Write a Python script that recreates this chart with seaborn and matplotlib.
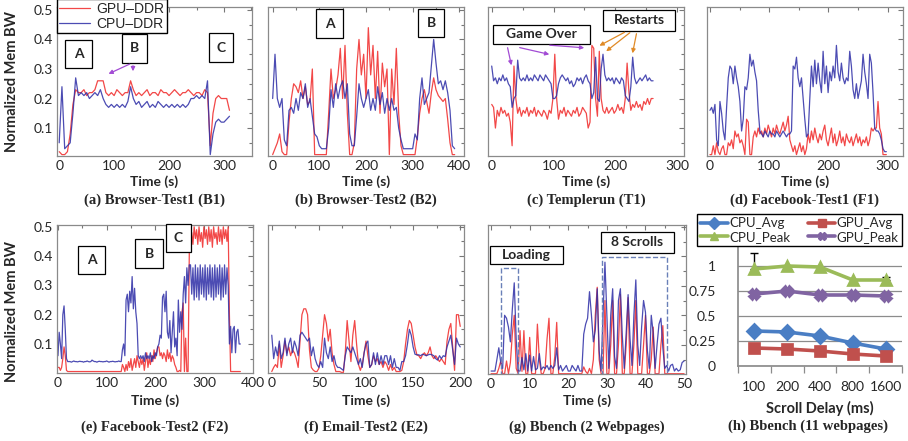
import numpy as np
import pandas as pd
import matplotlib
matplotlib.use("Agg")
import matplotlib.pyplot as plt
from matplotlib.patches import Rectangle, FancyArrowPatch
from matplotlib.lines import Line2D
from matplotlib.ticker import MultipleLocator
import seaborn as sns

# ---------------- data (normalized memory bandwidth) ----------------
# (a) Browser-Test1, one sample every 5 s
b1_step = 5
b1_gpu = [0.02, 0.01, 0.01, 0.02, 0.08, 0.18, 0.23, 0.22, 0.22, 0.23,
          0.21, 0.22, 0.22, 0.23, 0.26, 0.26, 0.26, 0.22, 0.21, 0.22,
          0.21, 0.23, 0.22, 0.21, 0.22, 0.22, 0.26, 0.23, 0.21, 0.22,
          0.21, 0.22, 0.23, 0.21, 0.22, 0.22, 0.21, 0.23, 0.22, 0.22,
          0.21, 0.22, 0.23, 0.22, 0.21, 0.22, 0.22, 0.23, 0.22, 0.21,
          0.22, 0.22, 0.21, 0.23, 0.22, 0.04, 0.15, 0.20, 0.21, 0.20,
          0.20, 0.20, 0.16]
b1_cpu = [0.05, 0.24, 0.03, 0.04, 0.05, 0.15, 0.27, 0.21, 0.22, 0.21,
          0.22, 0.20, 0.21, 0.22, 0.21, 0.23, 0.20, 0.18, 0.17, 0.18,
          0.17, 0.18, 0.17, 0.18, 0.17, 0.19, 0.24, 0.20, 0.18, 0.19,
          0.17, 0.18, 0.19, 0.17, 0.18, 0.17, 0.19, 0.18, 0.17, 0.18,
          0.17, 0.18, 0.17, 0.18, 0.17, 0.18, 0.17, 0.18, 0.20, 0.20,
          0.21, 0.20, 0.21, 0.20, 0.26, 0.01, 0.08, 0.12, 0.13, 0.12,
          0.12, 0.13, 0.14]

# (b) Browser-Test2, every 5 s
b2_step = 5
b2_gpu = [0.01, 0.03, 0.05, 0.08, 0.02, 0.01, 0.01, 0.12, 0.20, 0.25,
          0.24, 0.22, 0.26, 0.20, 0.24, 0.18, 0.19, 0.30, 0.01, 0.01,
          0.01, 0.01, 0.01, 0.01, 0.15, 0.30, 0.20, 0.23, 0.28, 0.37,
          0.20, 0.38, 0.15, 0.01, 0.01, 0.05, 0.30, 0.40, 0.28, 0.35,
          0.20, 0.44, 0.28, 0.38, 0.20, 0.36, 0.15, 0.32, 0.24, 0.30,
          0.01, 0.30, 0.18, 0.37, 0.15, 0.04, 0.01, 0.01, 0.01, 0.01,
          0.01, 0.01, 0.07, 0.15, 0.20, 0.23, 0.19, 0.15, 0.22, 0.27,
          0.23, 0.21, 0.20, 0.19, 0.20, 0.13, 0.05, 0.01, 0.01]
b2_cpu = [0.20, 0.35, 0.20, 0.17, 0.20, 0.06, 0.04, 0.16, 0.17, 0.15,
          0.20, 0.16, 0.22, 0.20, 0.25, 0.17, 0.20, 0.14, 0.08, 0.07,
          0.04, 0.03, 0.03, 0.03, 0.10, 0.23, 0.17, 0.25, 0.20, 0.24,
          0.26, 0.20, 0.25, 0.08, 0.04, 0.04, 0.14, 0.25, 0.20, 0.17,
          0.20, 0.23, 0.16, 0.20, 0.16, 0.24, 0.18, 0.22, 0.15, 0.20,
          0.16, 0.20, 0.16, 0.17, 0.10, 0.06, 0.03, 0.03, 0.03, 0.03,
          0.03, 0.08, 0.06, 0.20, 0.27, 0.18, 0.20, 0.22, 0.31, 0.40,
          0.32, 0.25, 0.26, 0.23, 0.26, 0.22, 0.16, 0.04, 0.03]

# (c) Templerun, every 3 s
t1_step = 3
t1_gpu = [0.18, 0.17, 0.10, 0.16, 0.14, 0.17, 0.15, 0.16, 0.14, 0.15,
          0.12, 0.04, 0.31, 0.20, 0.15, 0.17, 0.14, 0.16, 0.15, 0.17,
          0.14, 0.16, 0.15, 0.17, 0.14, 0.16, 0.15, 0.14, 0.16, 0.15,
          0.13, 0.16, 0.15, 0.20, 0.35, 0.20, 0.13, 0.16, 0.15, 0.17,
          0.14, 0.16, 0.15, 0.14, 0.16, 0.15, 0.17, 0.14, 0.15, 0.17,
          0.16, 0.15, 0.10, 0.12, 0.38, 0.37, 0.20, 0.14, 0.36, 0.20,
          0.16, 0.15, 0.17, 0.15, 0.16, 0.17, 0.15, 0.16, 0.18, 0.16,
          0.17, 0.15, 0.20, 0.32, 0.22, 0.16, 0.18, 0.17, 0.19, 0.17,
          0.18, 0.16, 0.19, 0.18, 0.20, 0.18, 0.20, 0.20]
t1_cpu = [0.31, 0.26, 0.27, 0.25, 0.27, 0.26, 0.28, 0.26, 0.27, 0.25,
          0.24, 0.17, 0.20, 0.21, 0.33, 0.27, 0.26, 0.27, 0.26, 0.28,
          0.26, 0.27, 0.26, 0.28, 0.27, 0.26, 0.28, 0.27, 0.26, 0.28,
          0.27, 0.26, 0.25, 0.20, 0.20, 0.21, 0.25, 0.27, 0.28, 0.27,
          0.26, 0.27, 0.25, 0.26, 0.24, 0.25, 0.27, 0.26, 0.27, 0.25,
          0.27, 0.28, 0.26, 0.25, 0.20, 0.22, 0.34, 0.20, 0.19, 0.30,
          0.35, 0.28, 0.26, 0.27, 0.26, 0.27, 0.25, 0.27, 0.26, 0.25,
          0.27, 0.26, 0.21, 0.20, 0.19, 0.24, 0.34, 0.27, 0.25, 0.26,
          0.27, 0.26, 0.27, 0.28, 0.26, 0.27, 0.26, 0.26]

# (d) Facebook-Test1, every 2.81 s
f1_step = 2.81
f1_gpu = [0.01, 0.01, 0.04, 0.01, 0.05, 0.02, 0.01, 0.03, 0.04, 0.01,
          0.01, 0.05, 0.04, 0.06, 0.03, 0.09, 0.07, 0.08, 0.05, 0.06,
          0.04, 0.01, 0.13, 0.12, 0.01, 0.01, 0.07, 0.09, 0.07, 0.10,
          0.08, 0.09, 0.07, 0.10, 0.08, 0.11, 0.09, 0.07, 0.10, 0.08,
          0.11, 0.09, 0.08, 0.10, 0.12, 0.09, 0.11, 0.14, 0.06, 0.04,
          0.02, 0.04, 0.01, 0.03, 0.05, 0.02, 0.04, 0.01, 0.03, 0.08,
          0.05, 0.09, 0.06, 0.10, 0.07, 0.05, 0.08, 0.06, 0.09, 0.11,
          0.06, 0.04, 0.07, 0.10, 0.05, 0.08, 0.04, 0.06, 0.09, 0.05,
          0.07, 0.04, 0.08, 0.06, 0.05, 0.07, 0.04, 0.06, 0.08, 0.05,
          0.07, 0.04, 0.06, 0.05, 0.07, 0.04, 0.06, 0.10, 0.09, 0.10,
          0.10, 0.19, 0.10, 0.08, 0.01, 0.01, 0.01]
f1_cpu = [0.16, 0.17, 0.15, 0.18, 0.06, 0.04, 0.19, 0.15, 0.09, 0.06,
          0.17, 0.27, 0.31, 0.30, 0.25, 0.31, 0.27, 0.24, 0.19, 0.09,
          0.13, 0.24, 0.23, 0.27, 0.35, 0.31, 0.33, 0.29, 0.26, 0.16,
          0.09, 0.08, 0.07, 0.09, 0.08, 0.07, 0.09, 0.08, 0.08, 0.07,
          0.09, 0.08, 0.07, 0.08, 0.09, 0.08, 0.07, 0.08, 0.08, 0.09,
          0.31, 0.30, 0.34, 0.27, 0.24, 0.27, 0.20, 0.13, 0.07, 0.08,
          0.20, 0.31, 0.24, 0.33, 0.25, 0.32, 0.26, 0.22, 0.36, 0.25,
          0.31, 0.22, 0.29, 0.26, 0.31, 0.27, 0.38, 0.29, 0.26, 0.32,
          0.27, 0.25, 0.27, 0.26, 0.36, 0.31, 0.23, 0.20, 0.25, 0.20,
          0.23, 0.26, 0.35, 0.29, 0.25, 0.20, 0.35, 0.32, 0.22, 0.10,
          0.09, 0.09, 0.08, 0.06, 0.03, 0.02, 0.02]

# (e) Facebook-Test2, every 2.5 s
f2_step = 2.5
f2_gpu = [0.02, 0.02, 0.01, 0.02, 0.05, 0.09, 0.06, 0.01, 0.006,
          0.006, 0.006, 0.006, 0.006, 0.006, 0.006, 0.006, 0.006, 0.006, 0.006,
          0.006, 0.006, 0.006, 0.006, 0.006, 0.006, 0.006, 0.006, 0.006, 0.006,
          0.006, 0.006, 0.006, 0.006, 0.006, 0.006, 0.006, 0.006, 0.006, 0.006,
          0.006, 0.006, 0.006, 0.006, 0.006, 0.006, 0.006, 0.006, 0.006, 0.006,
          0.006, 0.006, 0.006, 0.006,
          0.03, 0.02, 0.006, 0.03, 0.01, 0.04, 0.02, 0.05, 0.01, 0.03,
          0.05, 0.02, 0.06, 0.04, 0.02, 0.05,
          0.03, 0.05, 0.01, 0.04, 0.07, 0.02, 0.05, 0.03, 0.06, 0.04,
          0.08, 0.05, 0.07, 0.09,
          0.09, 0.06, 0.07, 0.05, 0.07, 0.06, 0.04, 0.08, 0.05, 0.07,
          0.04, 0.06, 0.05, 0.03, 0.02, 0.006, 0.006, 0.01, 0.006, 0.21,
          0.24, 0.006, 0.12, 0.006, 0.006, 0.41,
          0.43, 0.48, 0.44, 0.50, 0.46, 0.49, 0.44, 0.50, 0.45, 0.48,
          0.43, 0.50, 0.46, 0.49, 0.44, 0.50, 0.45, 0.49, 0.43, 0.50,
          0.46, 0.48, 0.44, 0.50, 0.45, 0.49, 0.44, 0.50, 0.46, 0.49,
          0.45, 0.50,
          0.20, 0.006, 0.006, 0.006, 0.006, 0.006, 0.006, 0.006, 0.006, 0.006]
f2_cpu = [0.06, 0.14, 0.10, 0.05, 0.20, 0.23, 0.15, 0.05, 0.04,
          0.040, 0.040, 0.038, 0.040, 0.042, 0.040, 0.040, 0.039, 0.040, 0.041,
          0.040, 0.040, 0.038, 0.040, 0.040, 0.042, 0.040, 0.039, 0.040, 0.045,
          0.042, 0.040, 0.040, 0.038, 0.040, 0.041, 0.040, 0.040, 0.039, 0.040,
          0.040, 0.042, 0.040, 0.038, 0.040, 0.040, 0.041, 0.040, 0.039, 0.040,
          0.040, 0.042, 0.040, 0.040,
          0.08, 0.10, 0.06, 0.25, 0.27, 0.21, 0.28, 0.24, 0.33, 0.22,
          0.29, 0.21, 0.17, 0.06, 0.05, 0.06,
          0.05, 0.06, 0.04, 0.07, 0.05, 0.06, 0.05, 0.07, 0.04, 0.06,
          0.05, 0.07, 0.06, 0.09,
          0.10, 0.13, 0.12, 0.26, 0.27, 0.21, 0.28, 0.14, 0.12, 0.18,
          0.07, 0.14, 0.21, 0.09, 0.12, 0.06, 0.25, 0.14, 0.21, 0.15,
          0.27, 0.33, 0.24, 0.36, 0.30, 0.37,
          0.37, 0.27, 0.36, 0.25, 0.37, 0.26, 0.36, 0.25, 0.37, 0.27,
          0.36, 0.26, 0.37, 0.25, 0.36, 0.27, 0.37, 0.26, 0.36, 0.25,
          0.37, 0.26, 0.36, 0.27, 0.37, 0.25, 0.36, 0.26, 0.37, 0.27,
          0.36, 0.30,
          0.10, 0.16, 0.07, 0.15, 0.16, 0.07, 0.14, 0.15, 0.10, 0.10]

# (f) Email-Test2, every 2 s
e2_step = 2
e2_gpu = [0.006, 0.02, 0.03, 0.02, 0.10, 0.02, 0.06, 0.11, 0.07, 0.09,
          0.06, 0.08, 0.07, 0.05, 0.02, 0.11, 0.20, 0.22, 0.22, 0.20,
          0.08, 0.02, 0.011, 0.006, 0.006, 0.017, 0.06, 0.13, 0.20, 0.17,
          0.11, 0.15, 0.07, 0.03, 0.006, 0.006, 0.006, 0.003, 0.003, 0.07,
          0.18, 0.11, 0.04, 0.13, 0.18, 0.10, 0.03, 0.01, 0.03, 0.07,
          0.11, 0.06, 0.02, 0.03, 0.06, 0.04, 0.05, 0.03, 0.04, 0.02,
          0.04, 0.03, 0.01, 0.03, 0.01, 0.02, 0.006, 0.006, 0.006, 0.01,
          0.04, 0.10, 0.15, 0.18, 0.17, 0.13, 0.09, 0.063, 0.06, 0.05,
          0.063, 0.07, 0.06, 0.07, 0.09, 0.06, 0.05, 0.06, 0.05, 0.04,
          0.05, 0.04, 0.03, 0.11, 0.15, 0.17, 0.09, 0.01, 0.20, 0.20,
          0.16]
e2_cpu = [0.13, 0.05, 0.09, 0.06, 0.11, 0.05, 0.07, 0.12, 0.06, 0.10,
          0.12, 0.07, 0.11, 0.09, 0.06, 0.13, 0.14, 0.13, 0.12, 0.11,
          0.12, 0.06, 0.09, 0.05, 0.03, 0.02, 0.04, 0.02, 0.12, 0.07,
          0.05, 0.09, 0.04, 0.06, 0.03, 0.02, 0.02, 0.015, 0.01, 0.06,
          0.09, 0.08, 0.07, 0.09, 0.07, 0.05, 0.03, 0.05, 0.02, 0.07,
          0.10, 0.11, 0.02, 0.03, 0.07, 0.03, 0.07, 0.03, 0.06, 0.03,
          0.06, 0.06, 0.03, 0.06, 0.02, 0.05, 0.02, 0.02, 0.01, 0.04,
          0.04, 0.06, 0.10, 0.15, 0.13, 0.09, 0.065, 0.063, 0.063, 0.06,
          0.065, 0.063, 0.06, 0.063, 0.065, 0.063, 0.06, 0.05, 0.045, 0.06,
          0.05, 0.06, 0.057, 0.09, 0.11, 0.13, 0.08, 0.03, 0.12, 0.10,
          0.09]

# (g) Bbench 2 webpages, every 0.5 s
bb_step = 0.5
bb_gpu = [0.002, 0.002, 0.002, 0.002, 0.02, 0.045, 0.002, 0.002, 0.045, 0.002,
          0.04, 0.136, 0.20, 0.02, 0.002, 0.148, 0.01, 0.148, 0.002, 0.002,
          0.125, 0.002, 0.002, 0.002, 0.17, 0.05, 0.002, 0.002, 0.02, 0.12,
          0.19, 0.002, 0.002, 0.06, 0.176, 0.002, 0.002, 0.002, 0.002, 0.002,
          0.002, 0.002, 0.002, 0.002, 0.002, 0.002, 0.002, 0.002, 0.025, 0.01,
          0.002, 0.02, 0.002, 0.05, 0.20, 0.295, 0.05, 0.002, 0.002, 0.25,
          0.002, 0.002, 0.10, 0.25, 0.002, 0.002, 0.10, 0.27, 0.002, 0.002,
          0.10, 0.26, 0.002, 0.002, 0.10, 0.25, 0.002, 0.002, 0.002, 0.10,
          0.20, 0.002, 0.002, 0.05, 0.16, 0.002, 0.002, 0.002, 0.10, 0.165,
          0.002, 0.002, 0.002, 0.002, 0.002, 0.002, 0.002, 0.002, 0.002, 0.002,
          0.002]
bb_cpu = [0.011, 0.011, 0.011, 0.05, 0.09, 0.04, 0.02, 0.20, 0.19, 0.16,
          0.11, 0.22, 0.31, 0.12, 0.011, 0.011, 0.057, 0.015, 0.07, 0.011,
          0.065, 0.011, 0.06, 0.015, 0.02, 0.07, 0.015, 0.025, 0.02, 0.03,
          0.015, 0.03, 0.02, 0.03, 0.09, 0.015, 0.03, 0.011, 0.02, 0.03,
          0.011, 0.011, 0.03, 0.02, 0.011, 0.03, 0.011, 0.011, 0.136, 0.17,
          0.19, 0.28, 0.20, 0.11, 0.15, 0.29, 0.08, 0.011, 0.20, 0.38,
          0.20, 0.02, 0.20, 0.29, 0.06, 0.02, 0.25, 0.29, 0.13, 0.02,
          0.14, 0.27, 0.12, 0.03, 0.20, 0.32, 0.10, 0.03, 0.16, 0.25,
          0.21, 0.08, 0.02, 0.20, 0.14, 0.02, 0.10, 0.17, 0.19, 0.09,
          0.02, 0.03, 0.011, 0.03, 0.034, 0.011, 0.02, 0.011, 0.015, 0.04,
          0.045]
loading_span = (2.6, 7.0, 0.36)
scrolls_span = (28.8, 45.6, 0.398)

# (h) Bbench 11 webpages vs scroll delay
delays = ["100", "200", "400", "800", "1600"]
cpu_avg = [0.35, 0.34, 0.30, 0.23, 0.17]
gpu_avg = [0.18, 0.17, 0.15, 0.12, 0.10]
cpu_peak = [0.97, 1.00, 0.99, 0.86, 0.86]
gpu_peak = [0.72, 0.75, 0.71, 0.71, 0.70]
cpu_peak_err = [0.16, 0.0, 0.0, 0.0, 0.03]
h_series = ["CPU_Avg", "GPU_Avg", "CPU_Peak", "GPU_Peak"]
h_colors = ["#4a7ec4", "#c0504d", "#9bbb59", "#8064a2"]
h_markers = ["D", "s", "^", "X"]
h_yticks = [0, 0.25, 0.5, 0.75, 1]
h_ytick_labels = ["0", "0.25", "0.5", "0.75", "1"]

# ---------------- figure ----------------
sns.set_theme(style="white")
plt.rcParams["font.family"] = ["Lato", "DejaVu Sans"]

W, H = 908, 441
fig = plt.figure(figsize=(W / 100, H / 100), dpi=100)

GPU_C = "#f02828"
CPU_C = "#2d2da6"
GRAY = "#8a8a8a"
SERIF = ["Liberation Serif", "DejaVu Serif"]


def fx(x):
    return x / W


def fy(y):
    return 1 - y / H


def new_axes(x0, y0, x1, y1):
    return fig.add_axes([fx(x0), fy(y1), (x1 - x0) / W, (y1 - y0) / H])


def traces(ax, step, gpu, cpu):
    df = pd.DataFrame({"t": np.arange(len(gpu)) * step, "gpu": gpu, "cpu": cpu})
    sns.lineplot(data=df, x="t", y="gpu", ax=ax, color=GPU_C, lw=0.9,
                 alpha=0.85, estimator=None, legend=False)
    sns.lineplot(data=df, x="t", y="cpu", ax=ax, color=CPU_C, lw=0.9,
                 alpha=0.85, estimator=None, legend=False)


def style_ts(ax, xlim, ylim, xstep, ylabels=False):
    ax.set_xlim(*xlim)
    ax.set_ylim(*ylim)
    ax.xaxis.set_major_locator(MultipleLocator(xstep))
    ax.xaxis.set_minor_locator(MultipleLocator(xstep / 2))
    ax.yaxis.set_major_locator(MultipleLocator(0.1))
    ax.yaxis.set_minor_locator(MultipleLocator(0.05))
    ax.tick_params(which="both", direction="in", top=True, right=True,
                   color="#777777", width=0.8)
    ax.tick_params(which="major", length=3.5, labelsize=10, pad=3)
    ax.tick_params(which="minor", length=2)
    if not ylabels:
        ax.tick_params(axis="y", labelleft=False)
    for s in ax.spines.values():
        s.set_color(GRAY)
        s.set_linewidth(0.9)
    ax.set_xlabel("")
    ax.set_ylabel("")


def tag(cx, cy, w, h, s, size=10):
    fig.add_artist(Rectangle((fx(cx - w / 2), fy(cy + h / 2)), w / W, h / H,
                             transform=fig.transFigure, fc="white", ec="black",
                             lw=0.9, zorder=5))
    fig.text(fx(cx), fy(cy), s, ha="center", va="center", fontsize=size,
             fontweight="bold", zorder=6)


def arrow(x0, y0, x1, y1, color):
    fig.add_artist(FancyArrowPatch((fx(x0), fy(y0)), (fx(x1), fy(y1)),
                                   transform=fig.transFigure, arrowstyle="-|>",
                                   mutation_scale=6, color=color, lw=0.9,
                                   zorder=6))


def under(ax_box, y, s, serif=False):
    cx = (ax_box[0] + ax_box[2]) / 2
    if serif:
        fig.text(fx(cx), fy(y), s, ha="center", va="center", fontsize=10.5,
                 fontweight="bold", family=SERIF)
    else:
        fig.text(fx(cx), fy(y), s, ha="center", va="center", fontsize=10,
                 fontweight="bold")


boxes = {
    "a": (57, 7, 252, 155.5), "b": (268, 7, 464, 155.5),
    "c": (488, 7, 684, 155.5), "d": (707, 7, 903, 155.5),
    "e": (57, 225, 253, 373), "f": (268, 225, 464, 373),
    "g": (488, 225, 686, 374),
}
panels = {
    "a": (b1_step, b1_gpu, b1_cpu, (-4, 351), 100, "(a) Browser-Test1 (B1)"),
    "b": (b2_step, b2_gpu, b2_cpu, (-10, 410), 100, "(b) Browser-Test2 (B2)"),
    "c": (t1_step, t1_gpu, t1_cpu, (-6, 311), 100, "(c) Templerun (T1)"),
    "d": (f1_step, f1_gpu, f1_cpu, (-5, 326), 100, "(d) Facebook-Test1 (F1)"),
    "e": (f2_step, f2_gpu, f2_cpu, (-2, 401), 100, "(e) Facebook-Test2 (F2)"),
    "f": (e2_step, e2_gpu, e2_cpu, (-4, 204), 50, "(f) Email-Test2 (E2)"),
    "g": (bb_step, bb_gpu, bb_cpu, (-0.8, 50.5), 10, "(g) Bbench (2 Webpages)"),
}

axes = {}
for key, (step, gpu, cpu, xlim, xstep, caption) in panels.items():
    ax = new_axes(*boxes[key])
    traces(ax, step, gpu, cpu)
    top_row = key in "abcd"
    ylim = (0.007, 0.51) if top_row else (0.001, 0.506)
    style_ts(ax, xlim, ylim, xstep, ylabels=key in "ae")
    under(boxes[key], 182 if top_row else 401, "Time (s)")
    under(boxes[key], 200 if top_row else 427, caption, serif=True)
    axes[key] = ax

for y in (82, 312):
    fig.text(fx(12), fy(y), "Normalized Mem BW", rotation=90, ha="center",
             va="center", fontsize=10.5, fontweight="bold")

# legend of panel (a)
axes["a"].legend(axes["a"].lines[:2], ["GPU–DDR", "CPU–DDR"], loc="lower left",
                 bbox_to_anchor=(fx(57), fy(33)), bbox_transform=fig.transFigure,
                 borderaxespad=0, fancybox=False, edgecolor="black",
                 framealpha=1, handlelength=2.2, borderpad=0.15,
                 labelspacing=0.1, handletextpad=0.5,
                 prop={"family": "Liberation Sans", "size": 10})

# annotations
PURPLE = "#a24bd4"
ORANGE = "#e08a26"
tag(78.5, 54, 27, 28, "A")
tag(134.5, 48.5, 25, 29, "B")
tag(221, 47.5, 24, 29, "C")
arrow(132, 63, 106, 75, PURPLE)
arrow(133, 63, 133, 74, PURPLE)

tag(329.5, 23.5, 27, 29, "A")
tag(431, 23, 26, 28, "B")

tag(541.5, 34.5, 97, 19, "Game Over")
tag(639, 20.5, 72, 21, "Restarts")
arrow(507, 45, 512, 68, PURPLE)
arrow(517, 47, 552, 55, PURPLE)
arrow(547, 45, 587, 48, PURPLE)
arrow(627, 31, 597, 47, ORANGE)
arrow(632, 31, 604, 53, ORANGE)
arrow(637, 31, 632, 56, ORANGE)

tag(91.5, 260, 27, 28, "A")
tag(149, 253.5, 28, 29, "B")
tag(178.5, 238, 25, 28, "C")

tag(526.5, 255, 73, 18, "Loading")
tag(637.5, 242.5, 73, 21, "8 Scrolls")
for t0, t1, top in (loading_span, scrolls_span):
    axes["g"].add_patch(Rectangle((t0, 0.001), t1 - t0, top - 0.001, fill=False,
                                  ls="--", ec="#6a80b8", lw=1, zorder=4))

# ---------------- panel (h) ----------------
axh = new_axes(738, 246, 902, 366)
h_df = pd.concat([
    pd.DataFrame({"delay": delays, "bw": vals, "series": name})
    for name, vals in zip(h_series, [cpu_avg, gpu_avg, cpu_peak, gpu_peak])
])
err_idx = [i for i, e in enumerate(cpu_peak_err) if e > 0]
axh.errorbar(err_idx, [cpu_peak[i] for i in err_idx],
             yerr=[[0] * len(err_idx), [cpu_peak_err[i] for i in err_idx]],
             fmt="none", ecolor="black", elinewidth=1, capsize=3, zorder=1)
sns.pointplot(data=h_df, x="delay", y="bw", hue="series", order=delays,
              hue_order=h_series, palette=h_colors, markers=h_markers,
              linestyles="-", errorbar=None, markersize=7, linewidth=2.6,
              ax=axh, legend=False)
axh.set_xlim(-0.5, len(delays) - 0.5)
axh.set_ylim(0, 1.2)
axh.set_yticks(h_yticks)
axh.set_yticklabels(h_ytick_labels)
axh.yaxis.grid(True, color="#8c8c8c", lw=0.9)
axh.set_axisbelow(True)
axh.set_xticks(np.arange(-0.5, len(delays), 1), minor=True)
axh.tick_params(axis="y", length=0, pad=16, labelsize=10)
axh.tick_params(axis="x", which="major", length=0, pad=11, labelsize=10)
axh.tick_params(axis="x", which="minor", length=5, direction="out",
                color="#8c8c8c", width=0.9, bottom=True)
for side in ("top", "right"):
    axh.spines[side].set_visible(False)
for side in ("left", "bottom"):
    axh.spines[side].set_color("#8c8c8c")
axh.set_xlabel("")
axh.set_ylabel("")
fig.text(fx(820), fy(408), "Scroll Delay (ms)", ha="center", va="center",
         fontsize=10.5, fontweight="bold")
fig.text(fx(808), fy(426), "(h) Bbench (11 webpages)", ha="center",
         va="center", fontsize=10.5, fontweight="bold", family=SERIF)

handles = [Line2D([], [], color=c, marker=m, lw=2.6, markersize=6)
           for c, m in zip(h_colors, h_markers)]
order = [0, 2, 1, 3]
fig.legend([handles[i] for i in order], [h_series[i] for i in order], ncol=2,
           loc="lower left", mode="expand",
           bbox_to_anchor=(fx(697), fy(246), (902 - 697) / W, 32 / H),
           frameon=True, fancybox=False, edgecolor="black", framealpha=1,
           fontsize=9.5, handlelength=2.1, columnspacing=1.0, borderpad=0.25,
           labelspacing=0.1, handletextpad=0.1, borderaxespad=0)

fig.savefig("out.png", dpi=100)
